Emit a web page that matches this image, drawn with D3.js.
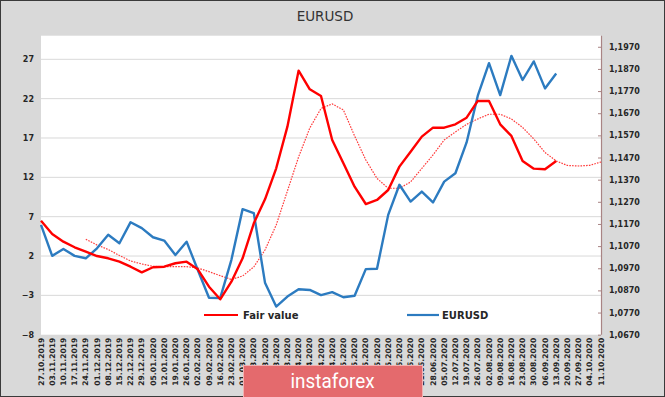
<!DOCTYPE html>
<html>
<head>
<meta charset="utf-8">
<script src="https://cdn.jsdelivr.net/npm/d3@7"></script>
<style>
  html, body { margin: 0; padding: 0; background: #fff; }
  svg { display: block; }
</style>
</head>
<body>
<svg id="chart" width="665" height="397"></svg>
<script>
const dates = ["27.10.2019","03.11.2019","10.11.2019","17.11.2019","24.11.2019","01.12.2019","08.12.2019","15.12.2019","22.12.2019","29.12.2019","05.01.2020","12.01.2020","19.01.2020","26.01.2020","02.02.2020","09.02.2020","16.02.2020","23.02.2020","01.03.2020","08.03.2020","15.03.2020","22.03.2020","29.03.2020","05.04.2020","12.04.2020","19.04.2020","26.04.2020","03.05.2020","10.05.2020","17.05.2020","24.05.2020","31.05.2020","07.06.2020","14.06.2020","21.06.2020","28.06.2020","05.07.2020","12.07.2020","19.07.2020","26.07.2020","02.08.2020","09.08.2020","16.08.2020","23.08.2020","30.08.2020","06.09.2020","13.09.2020","20.09.2020","27.09.2020","04.10.2020","11.10.2020"];

// Fair value (left axis), weeks 0..46
const fairValue = [6.49,4.8,3.82,3.11,2.55,2.0,1.71,1.28,0.64,-0.07,0.57,0.64,1.08,1.28,0.31,-1.9,-3.5,-1.26,1.71,6.16,9.21,13.15,18.44,25.56,23.19,22.34,16.75,13.79,10.81,8.61,9.12,10.39,13.36,15.26,17.17,18.31,18.31,18.74,19.58,21.71,21.71,18.74,17.26,14.08,13.1,13.02,14.08];

// EURUSD (right axis), weeks 0..46
const eurusd = [1.1166,1.1026,1.1057,1.1026,1.1015,1.1060,1.1121,1.1083,1.1178,1.1151,1.1110,1.1095,1.1030,1.1090,1.0962,1.0837,1.0835,1.1008,1.1237,1.1219,1.0905,1.0797,1.0842,1.0875,1.0872,1.0849,1.0862,1.0839,1.0846,1.0966,1.0968,1.1211,1.1347,1.1271,1.1316,1.1267,1.1361,1.1399,1.1538,1.1749,1.1896,1.1752,1.1929,1.1820,1.1904,1.1782,1.1849];

// Dotted smoothed fair value (left axis), weeks 4..50
const smoothStart = 4;
const smoothed = [4.13,3.4,2.83,2.07,1.37,0.99,0.69,0.64,0.64,0.64,0.48,0.01,-0.5,-0.98,-0.54,0.61,2.77,5.94,10.27,14.59,18.27,20.75,21.33,20.56,17.26,14.21,11.86,10.61,10.61,11.41,13.13,14.84,16.75,17.77,18.74,19.42,20.02,20.02,19.42,18.34,16.88,15.16,14.08,13.51,13.44,13.53,13.95];

const leftTicks = [-8,-3,2,7,12,17,22,27];
const rightTicks = [1.067,1.077,1.087,1.097,1.107,1.117,1.127,1.137,1.147,1.157,1.167,1.177,1.187,1.197];
const leftDomain = [-8, 30];
const rightDomain = [1.067, 1.202];

const svg = d3.select("#chart");
const W = 665, H = 397;
const plot = {left: 41, right: 601, top: 35.7, bottom: 334.7};
const FONT = "'DejaVu Sans', Verdana, sans-serif";

// background
svg.append("rect").attr("x",0.5).attr("y",0.5).attr("width",W-1).attr("height",H-1)
  .attr("fill","#d9d9d9").attr("stroke","#3a3a3a").attr("stroke-width",1);
svg.append("rect").attr("x",plot.left).attr("y",plot.top)
  .attr("width",plot.right-plot.left).attr("height",plot.bottom-plot.top).attr("fill","#ffffff");

const x = d3.scalePoint().domain(dates).range([plot.left, plot.right]);
const yL = d3.scaleLinear().domain(leftDomain).range([plot.bottom, plot.top]);
const yR = d3.scaleLinear().domain(rightDomain).range([plot.bottom, plot.top]);

// gridlines
svg.append("g").selectAll("line").data(leftTicks.filter(d => d > -8)).join("line")
  .attr("x1", plot.left).attr("x2", plot.right)
  .attr("y1", d => yL(d)).attr("y2", d => yL(d))
  .attr("stroke","#d9d9d9").attr("stroke-width",1);

// left axis
const gL = svg.append("g").attr("transform",`translate(${plot.left},0)`)
  .call(d3.axisLeft(yL).tickValues(leftTicks).tickSize(0).tickPadding(7).tickFormat(d3.format("d")));
gL.select(".domain").remove();
gL.selectAll("text").attr("font-family",FONT).attr("font-size",8).attr("font-weight","bold").attr("fill","#262626");

// right axis
const fmtR = d => d3.format(".4f")(d).replace(".", ",");
const gR = svg.append("g").attr("transform",`translate(${plot.right},0)`)
  .call(d3.axisRight(yR).tickValues(rightTicks).tickSizeInner(-3).tickSizeOuter(0).tickPadding(8).tickFormat(fmtR));
gR.select(".domain").attr("stroke","#a88484").attr("stroke-width",1.2)
  .attr("d", `M0.5,${plot.top}V${plot.bottom}`);
gR.selectAll(".tick line").attr("stroke","#a88484");
gR.selectAll("text").attr("font-family",FONT).attr("font-size",8).attr("font-weight","bold").attr("fill","#262626");

// x labels
svg.append("g").selectAll("text").data(dates).join("text")
  .attr("transform", d => `translate(${x(d)},${plot.bottom + 3}) rotate(-90)`)
  .attr("text-anchor","end").attr("dy","0.35em")
  .attr("font-family",FONT).attr("font-size",7.6).attr("font-weight","bold").attr("fill","#262626")
  .text(d => d);

// lines
const lineL = d3.line().x(d => x(d.date)).y(d => yL(d.v));
const lineR = d3.line().x(d => x(d.date)).y(d => yR(d.v));

const smoothData = smoothed.map((v,i) => ({date: dates[i+smoothStart], v}));
svg.append("path").attr("d", lineL(smoothData)).attr("fill","none")
  .attr("stroke","#ff3b3b").attr("stroke-width",1.2).attr("stroke-dasharray","1.6,1.2");

const eurData = eurusd.map((v,i) => ({date: dates[i], v}));
svg.append("path").attr("d", lineR(eurData)).attr("fill","none")
  .attr("stroke","#2c7bc0").attr("stroke-width",2.4).attr("stroke-linejoin","round");

const fvData = fairValue.map((v,i) => ({date: dates[i], v}));
svg.append("path").attr("d", lineL(fvData)).attr("fill","none")
  .attr("stroke","#ff0000").attr("stroke-width",2.4).attr("stroke-linejoin","round");

// title
svg.append("text").attr("x",325).attr("y",21).attr("text-anchor","middle")
  .attr("font-family",FONT).attr("font-size",13.5).attr("fill","#333")
  .text("EURUSD");

// legend
const legend = [
  {name: "Fair value", color: "#ff0000", x1: 204, x2: 238, tx: 243},
  {name: "EURUSD", color: "#2c7bc0", x1: 407, x2: 439, tx: 442}
];
const lg = svg.append("g");
legend.forEach(l => {
  lg.append("line").attr("x1",l.x1).attr("x2",l.x2).attr("y1",315).attr("y2",315)
    .attr("stroke",l.color).attr("stroke-width",2.2);
  lg.append("text").attr("x",l.tx).attr("y",318.5)
    .attr("font-family",FONT).attr("font-size",10).attr("font-weight","bold").attr("fill","#262626")
    .text(l.name);
});

// watermark
svg.append("rect").attr("x",243.5).attr("y",365.5).attr("width",179).attr("height",40)
  .attr("fill","#e46a6d").attr("stroke","#f3b0b0").attr("stroke-width",1);
svg.append("text").attr("x",290.5).attr("y",387.5)
  .attr("font-family","Roboto, 'Open Sans', sans-serif").attr("font-size",21).attr("fill","#ffffff")
  .attr("textLength",84).attr("lengthAdjust","spacingAndGlyphs")
  .text("instaforex");
</script>
</body>
</html>
